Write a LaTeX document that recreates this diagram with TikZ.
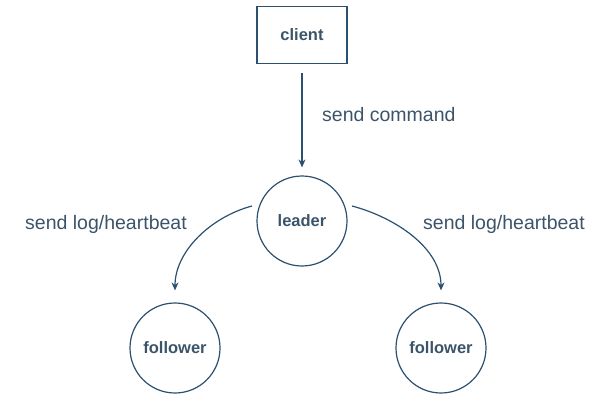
\documentclass[tikz,border=0pt]{standalone}
\usepackage{fontspec}
\setmainfont{Liberation Sans}
\usepackage{xcolor}
\usepackage{tikz}
\usetikzlibrary{arrows.meta}
\definecolor{line}{HTML}{2C5170}
\definecolor{ink}{HTML}{3B5469}
\tikzset{
  box/.style={draw=line, line width=1.2pt, minimum width=90pt, minimum height=57pt, inner sep=0pt,
    text=ink, font=\fontsize{16.5}{20}\selectfont\bfseries},
  role/.style={circle, draw=line, line width=1.2pt, minimum size=90pt, inner sep=0pt,
    text=ink, font=\fontsize{16.5}{20}\selectfont\bfseries},
  msg/.style={draw=line, line width=1.2pt, -{Stealth[length=8pt,width=7pt]}},
  lab/.style={text=ink, anchor=west, inner sep=0pt, font=\fontsize{19.5}{23}\selectfont},
}
\begin{document}
\begin{tikzpicture}[x=1pt, y=-1pt]
  \useasboundingbox (0,0) rectangle (610,401);

  \node[box] (client) at (302,35) {client};
  \node[role] (leader) at (302,221) {leader};
  \node[role] (lfollow) at (175,348) {follower};
  \node[role] (rfollow) at (441,348) {follower};

  % client -> leader
  \draw[msg, shorten <=9pt, shorten >=8pt] (client.south) -- (leader.north);
  \node[lab] (cmd) at (322,115) {send command};

  % leader -> followers
  \draw[msg, shorten <=8pt, shorten >=12pt] (leader.158) to[out=195, in=90] (lfollow.north);
  \draw[msg, shorten <=8pt, shorten >=12pt] (leader.22) to[out=-15, in=90] (rfollow.north);
  \node[lab] (lhb) at (25,224) {send log/heartbeat};
  \node[lab] (rhb) at (423,224) {send log/heartbeat};
\end{tikzpicture}
\end{document}
